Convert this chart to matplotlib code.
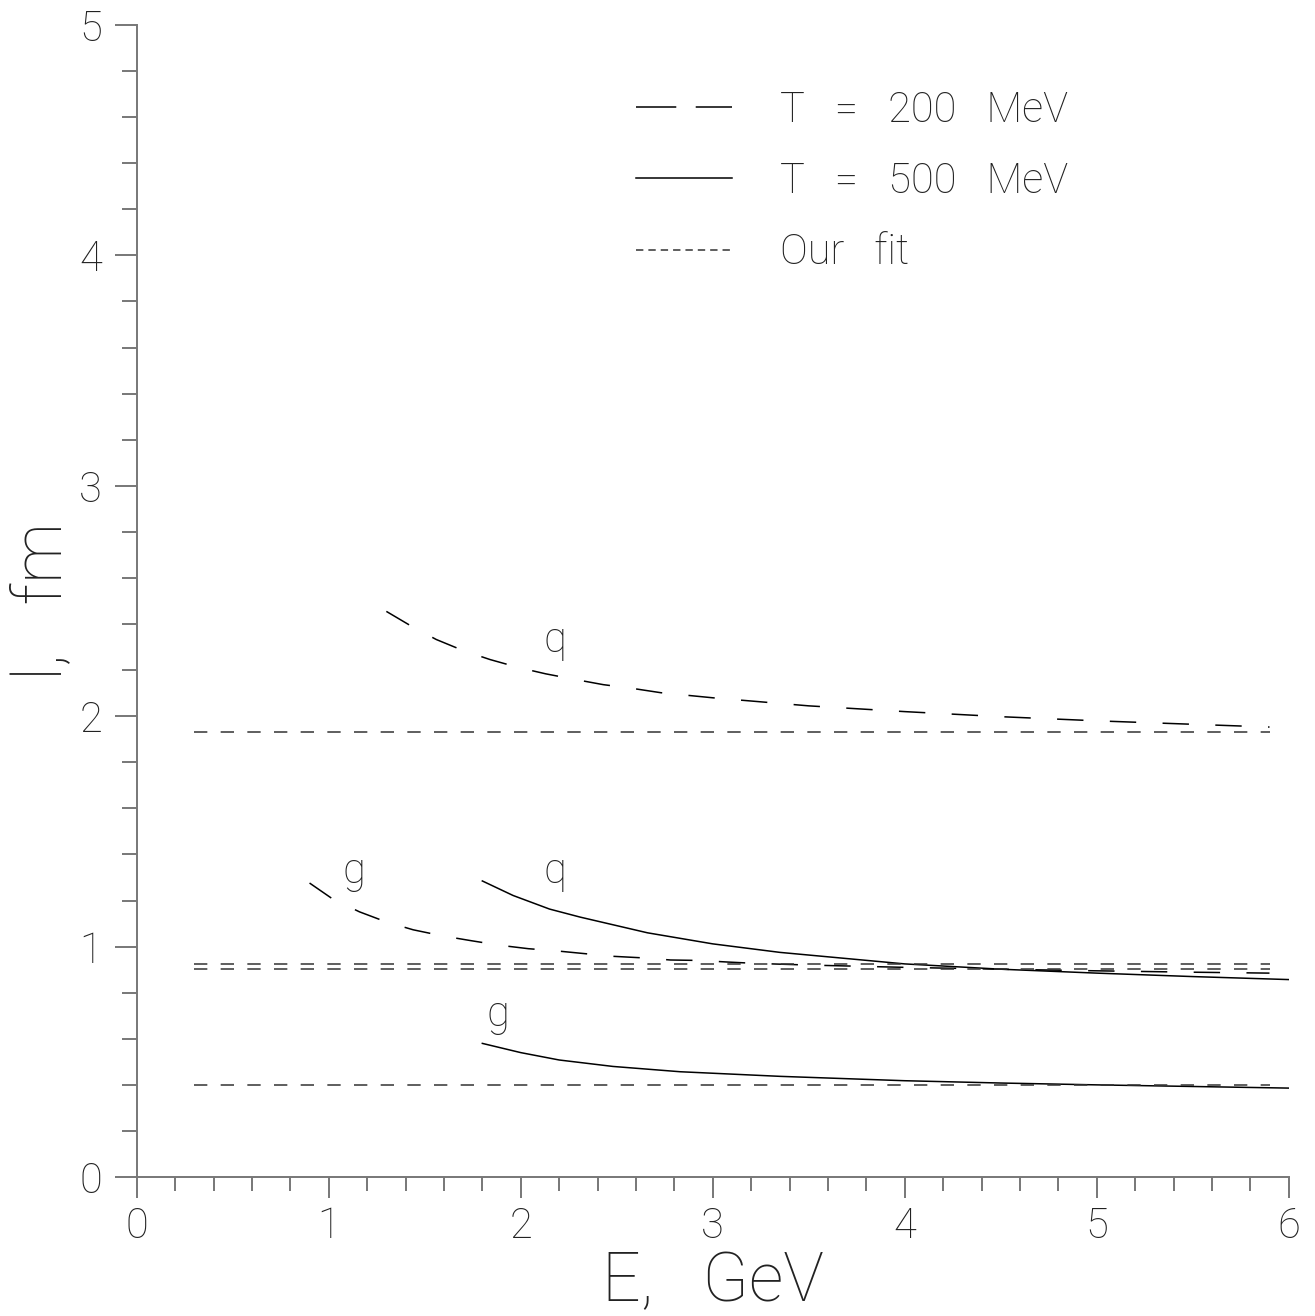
import matplotlib
matplotlib.use("Agg")
import matplotlib.pyplot as plt
from matplotlib.lines import Line2D
from matplotlib.ticker import MultipleLocator

plt.rcParams['font.family'] = ['Roboto', 'DejaVu Sans']
plt.rcParams['font.weight'] = 'light'
plt.rcParams['axes.labelweight'] = 'light'
plt.rcParams['lines.scale_dashes'] = False

# T = 200 MeV, quark
e_q200 = [1.3, 1.43, 1.56, 1.70, 1.84, 1.99, 2.13, 2.28, 2.43, 2.58, 2.73,
          3.0, 3.5, 4.0, 4.5, 5.0, 5.5, 5.9]
l_q200 = [2.455, 2.391, 2.333, 2.285, 2.246, 2.211, 2.184, 2.160, 2.137, 2.121, 2.102,
          2.080, 2.045, 2.020, 1.998, 1.980, 1.965, 1.953]
# T = 200 MeV, gluon
e_g200 = [0.9, 1.02, 1.16, 1.30, 1.44, 1.59, 1.74, 1.89, 2.04, 2.18, 2.34, 2.48,
          2.64, 2.78, 2.93, 3.08, 3.23, 3.5, 4.0, 4.5, 5.0, 5.5, 5.9]
l_g200 = [1.276, 1.207, 1.151, 1.107, 1.073, 1.047, 1.026, 1.006, 0.991, 0.982, 0.969, 0.958,
          0.951, 0.942, 0.940, 0.933, 0.927, 0.920, 0.910, 0.902, 0.895, 0.889, 0.885]
# T = 500 MeV, quark
e_q500 = [1.8, 1.96, 2.15, 2.31, 2.66, 3.0, 3.35, 4.0, 4.5, 5.0, 5.5, 6.0]
l_q500 = [1.285, 1.222, 1.163, 1.128, 1.060, 1.012, 0.975, 0.925, 0.902, 0.885, 0.870, 0.857]
# T = 500 MeV, gluon
e_g500 = [1.8, 2.0, 2.2, 2.48, 2.83, 3.35, 4.0, 4.5, 5.0, 5.5, 6.0]
l_g500 = [0.580, 0.540, 0.508, 0.480, 0.457, 0.437, 0.418, 0.408, 0.400, 0.393, 0.386]

# our fit (constant values)
fit_range = [0.3, 5.9]
fit_vals = [1.930, 0.925, 0.903, 0.399]

# curve labels
lab_text = ['q', 'g', 'q', 'g']
lab_x = [2.18, 1.13, 2.18, 1.88]
lab_y = [2.28, 1.276, 1.276, 0.657]

fig = plt.figure(figsize=(13.15, 13.16), dpi=100)
ax = fig.add_axes([0.104, 0.1056, 0.876, 0.8754])

lw = 1.1
dash200 = (19, 19)
dashfit = (9.6, 9.6)

ax.plot(e_q200, l_q200, color='black', lw=lw, dashes=dash200)
ax.plot(e_g200, l_g200, color='black', lw=lw, dashes=dash200)
ax.plot(e_q500, l_q500, color='black', lw=lw)
ax.plot(e_g500, l_g500, color='black', lw=lw)
for v in fit_vals:
    ax.plot(fit_range, [v, v], color='#333333', lw=lw, dashes=dashfit)

for t, x, y in zip(lab_text, lab_x, lab_y):
    ax.text(x, y, t, fontsize=30, ha='center', va='baseline', color='#222222')

ax.set_xlim(0, 6)
ax.set_ylim(0, 5)
ax.xaxis.set_major_locator(MultipleLocator(1))
ax.xaxis.set_minor_locator(MultipleLocator(0.2))
ax.yaxis.set_major_locator(MultipleLocator(1))
ax.yaxis.set_minor_locator(MultipleLocator(0.2))

for s in ['top', 'right']:
    ax.spines[s].set_visible(False)
for s in ['left', 'bottom']:
    ax.spines[s].set_color('#777777')
    ax.spines[s].set_linewidth(1.4)

ax.tick_params(axis='both', which='both', direction='out', color='#777777',
               width=1.4, labelsize=30, labelcolor='#222222')
ax.tick_params(axis='x', which='major', length=15, pad=6)
ax.tick_params(axis='x', which='minor', length=10)
ax.tick_params(axis='y', which='major', length=16, pad=9)
ax.tick_params(axis='y', which='minor', length=11)

ax.set_xlabel('E,   GeV', fontsize=49, color='#222222', labelpad=2)
ax.set_ylabel('l,   fm', fontsize=49, color='#222222', labelpad=3)

handles = [Line2D([], [], color='black', lw=lw, dashes=(29, 14)),
           Line2D([], [], color='black', lw=lw),
           Line2D([], [], color='#333333', lw=lw, dashes=(5.3, 3.6))]
labels = ['T   =   200   MeV', 'T   =   500   MeV', 'Our   fit']
ax.legend(handles, labels, loc='upper left', bbox_to_anchor=(0.4334, 0.944),
          frameon=False, fontsize=30, handlelength=2.3, handletextpad=1.15,
          labelspacing=0.73, borderpad=0, borderaxespad=0,
          labelcolor='#222222')

fig.savefig('out.png', dpi=100)
